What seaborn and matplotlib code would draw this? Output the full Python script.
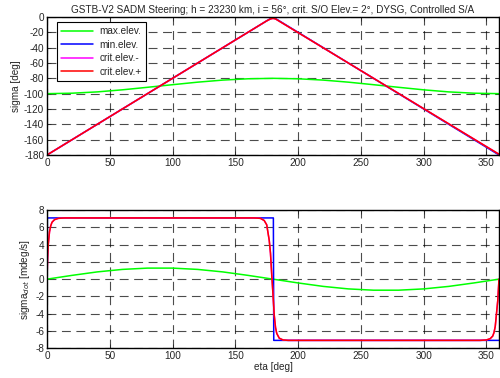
import numpy as np
import matplotlib
matplotlib.use("Agg")
import matplotlib.pyplot as plt
import seaborn as sns

# eta axis samples (deg)
eta_max = [0, 20, 40, 60, 80, 100, 120, 140, 160, 180,
           200, 220, 240, 260, 280, 300, 320, 340, 360]
sigma_max = [-100, -99.4, -97.7, -95, -91.7, -88.3, -85, -82.3, -80.6, -80,
             -80.6, -82.3, -85, -88.3, -91.7, -95, -97.7, -99.4, -100]
sdot_max = [0, 0.44, 0.84, 1.13, 1.28, 1.28, 1.13, 0.84, 0.44, 0,
            -0.44, -0.84, -1.13, -1.28, -1.28, -1.13, -0.84, -0.44, 0]

eta_min = [0, 180, 360]
sigma_min = [-180, 0, -180]
eta_min_dot = [0, 0.3, 180.3, 180.6, 360]
sdot_min = [0, 7.1, 7.1, -7.1, -7.1]

eta_crit = [0, 175, 178, 180, 182, 185, 360]
sigma_crit = [-180, -5, -2.5, -1.8, -2.5, -5.5, -179]
eta_crit_dot = [0, 0.5, 1, 2, 3, 4, 6, 9, 14,
                165, 170, 173, 175, 177, 178, 179, 180, 181, 182, 183, 185, 188, 192,
                345, 350, 353, 355, 356, 357, 358, 359, 360]
sdot_crit = [0, 2.5, 4, 5.5, 6.2, 6.6, 6.9, 7.05, 7.1,
             7.1, 7.05, 6.8, 6.3, 4.5, 3, 0.5, -1.8, -4.2, -5.6, -6.3, -6.85, -7.05, -7.1,
             -7.1, -7.05, -6.9, -6.6, -6.2, -5.5, -4, -2.5, 0]

title = ("GSTB-V2 SADM Steering; h = 23230 km, i = 56\u00b0, "
         "crit. S/O Elev.= 2\u00b0, DYSG, Controlled S/A")

sns.set_style("white")
plt.rcParams['font.family'] = ['Liberation Sans', 'DejaVu Sans']
plt.rcParams['axes.unicode_minus'] = False
fs = 7.2

fig = plt.figure(figsize=(5.0, 3.78), dpi=100)
ax1 = fig.add_axes([0.094, 0.59, 0.904, 0.365])
ax2 = fig.add_axes([0.094, 0.079, 0.904, 0.365])

lw = 1.1
for ax, mx, mn, cr, mn_x, cr_x in [
        (ax1, sigma_max, sigma_min, sigma_crit, eta_min, eta_crit),
        (ax2, sdot_max, sdot_min, sdot_crit, eta_min_dot, eta_crit_dot)]:
    sns.lineplot(x=eta_max, y=mx, color="#00ff00", lw=lw, sort=False,
                 estimator=None, ax=ax, label="max.elev.")
    sns.lineplot(x=mn_x, y=mn, color="#0000ff", lw=lw, sort=False,
                 estimator=None, ax=ax, label="min.elev.")
    sns.lineplot(x=cr_x, y=cr, color="#ff00ff", lw=lw, sort=False,
                 estimator=None, ax=ax, label="crit.elev.-")
    sns.lineplot(x=cr_x, y=cr, color="#ff0000", lw=lw, sort=False,
                 estimator=None, ax=ax, label="crit.elev.+")

ax1.set_ylim(-180, 0)
ax1.set_yticks(range(-180, 1, 20))
ax2.set_ylim(-8, 8)
ax2.set_yticks(range(-8, 9, 2))

for ax in (ax1, ax2):
    ax.set_xlim(0, 360)
    ax.set_xticks(range(0, 351, 50))
    ax.grid(True, color="black", linestyle=(0, (8, 5)), linewidth=0.8, alpha=0.7)
    ax.tick_params(direction="in", length=3, width=0.6, labelsize=fs, pad=2,
                   top=True, right=True, bottom=True, left=True)
    for s in ax.spines.values():
        s.set_color("black")
        s.set_linewidth(1.0)

leg = ax1.legend(loc="upper left", bbox_to_anchor=(0.022, 0.965), borderaxespad=0,
                 fontsize=fs, frameon=True, fancybox=False,
                 edgecolor="black", framealpha=1, handlelength=3.2,
                 handletextpad=0.6, labelspacing=0.35, borderpad=0.45)
leg.get_frame().set_linewidth(0.8)
ax2.get_legend().remove()

ax1.set_title(title, fontsize=fs, pad=3)
ax1.set_ylabel("sigma [deg]", fontsize=fs, labelpad=2)
ax2.set_ylabel("sigma$_{dot}$ [mdeg/s]", fontsize=fs, labelpad=2)
ax2.set_xlabel("eta [deg]", fontsize=fs, labelpad=1)

fig.savefig("out.png", dpi=100)
